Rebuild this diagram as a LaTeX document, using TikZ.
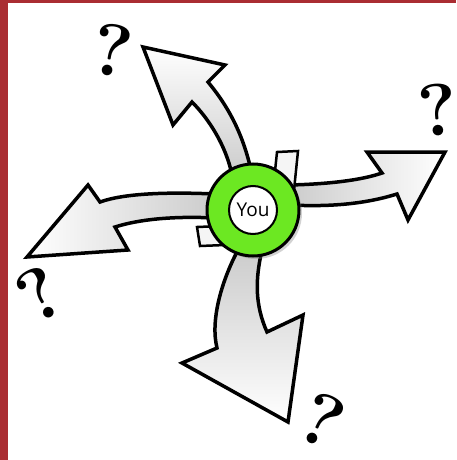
\documentclass[tikz,border=0pt]{standalone}
\usepackage{fontspec}
\newfontfamily\youfont{Open Sans}
\usetikzlibrary{shadows}
\definecolor{frame}{RGB}{170,45,50}
\definecolor{youring}{RGB}{108,232,34}

\begin{document}
\begin{tikzpicture}[
      x=1pt, y=-1pt,
      arrowbody/.style={draw=black, line width=3.5pt, line join=miter, miter limit=6},
      tab/.style={draw=black, line width=2.5pt, fill=gray!8},
      ring/.style={circle, draw=black, line width=3pt, fill=youring,
                   minimum size=92pt, inner sep=0pt,
                   drop shadow={opacity=0.35, shadow xshift=3pt, shadow yshift=-3pt}},
      core/.style={circle, draw=black, line width=2pt, fill=white,
                   minimum size=48pt, inner sep=0pt, font=\youfont\fontsize{19}{19}\selectfont},
      qmark/.style={inner sep=0pt, font=\fontsize{74}{74}\selectfont\bfseries}
    ]
    \useasboundingbox (0,0) rectangle (456,460);
    \fill[frame] (0,0) rectangle (456,460);
    \fill[white] (8,3) rectangle (456,460);

    \path[arrowbody, top color=white, bottom color=gray!40]
      (232,175) .. controls (226,145) and (208,118) .. (192,102) -- (173,125)
      -- (143,47) -- (225,65) -- (208,82)
      .. controls (228,106) and (244,135) .. (252,175) -- cycle;
    \path[arrowbody, left color=gray!40, right color=white]
      (290,185) .. controls (330,184) and (362,180) .. (382,173) -- (367,152)
      -- (445,152) -- (408,220) -- (397,194)
      .. controls (365,204) and (330,207) .. (290,205) -- cycle;
    \path[arrowbody, left color=white, right color=gray!40]
      (215,194) .. controls (170,192) and (125,193) .. (100,202) -- (88,185)
      -- (27,257) -- (128,250) -- (115,227)
      .. controls (140,219) and (175,216) .. (215,218) -- cycle;
    \path[arrowbody, top color=gray!40, bottom color=white]
      (238,250) .. controls (222,280) and (210,320) .. (217,348) -- (182,363)
      -- (288,422) -- (303,315) -- (267,332)
      .. controls (255,305) and (255,280) .. (262,250) -- cycle;

    \path[tab] (277,152) -- (298,151) -- (293,200) -- (272,200) -- cycle;
    \path[tab] (197,227) -- (200,246) -- (225,245) -- (222,226) -- cycle;

    \node[ring] (ring) at (253,210) {};
    \node[core] (you) at (ring.center) {You};

    \node[qmark, rotate=-10] (qnw) at (112,50) {?};
    \node[qmark, rotate=5] (qe) at (438,110) {?};
    \node[qmark, rotate=30] (qw) at (40,294) {?};
    \node[qmark, rotate=-25] (qs) at (322,420) {?};
  \end{tikzpicture}
\end{document}
